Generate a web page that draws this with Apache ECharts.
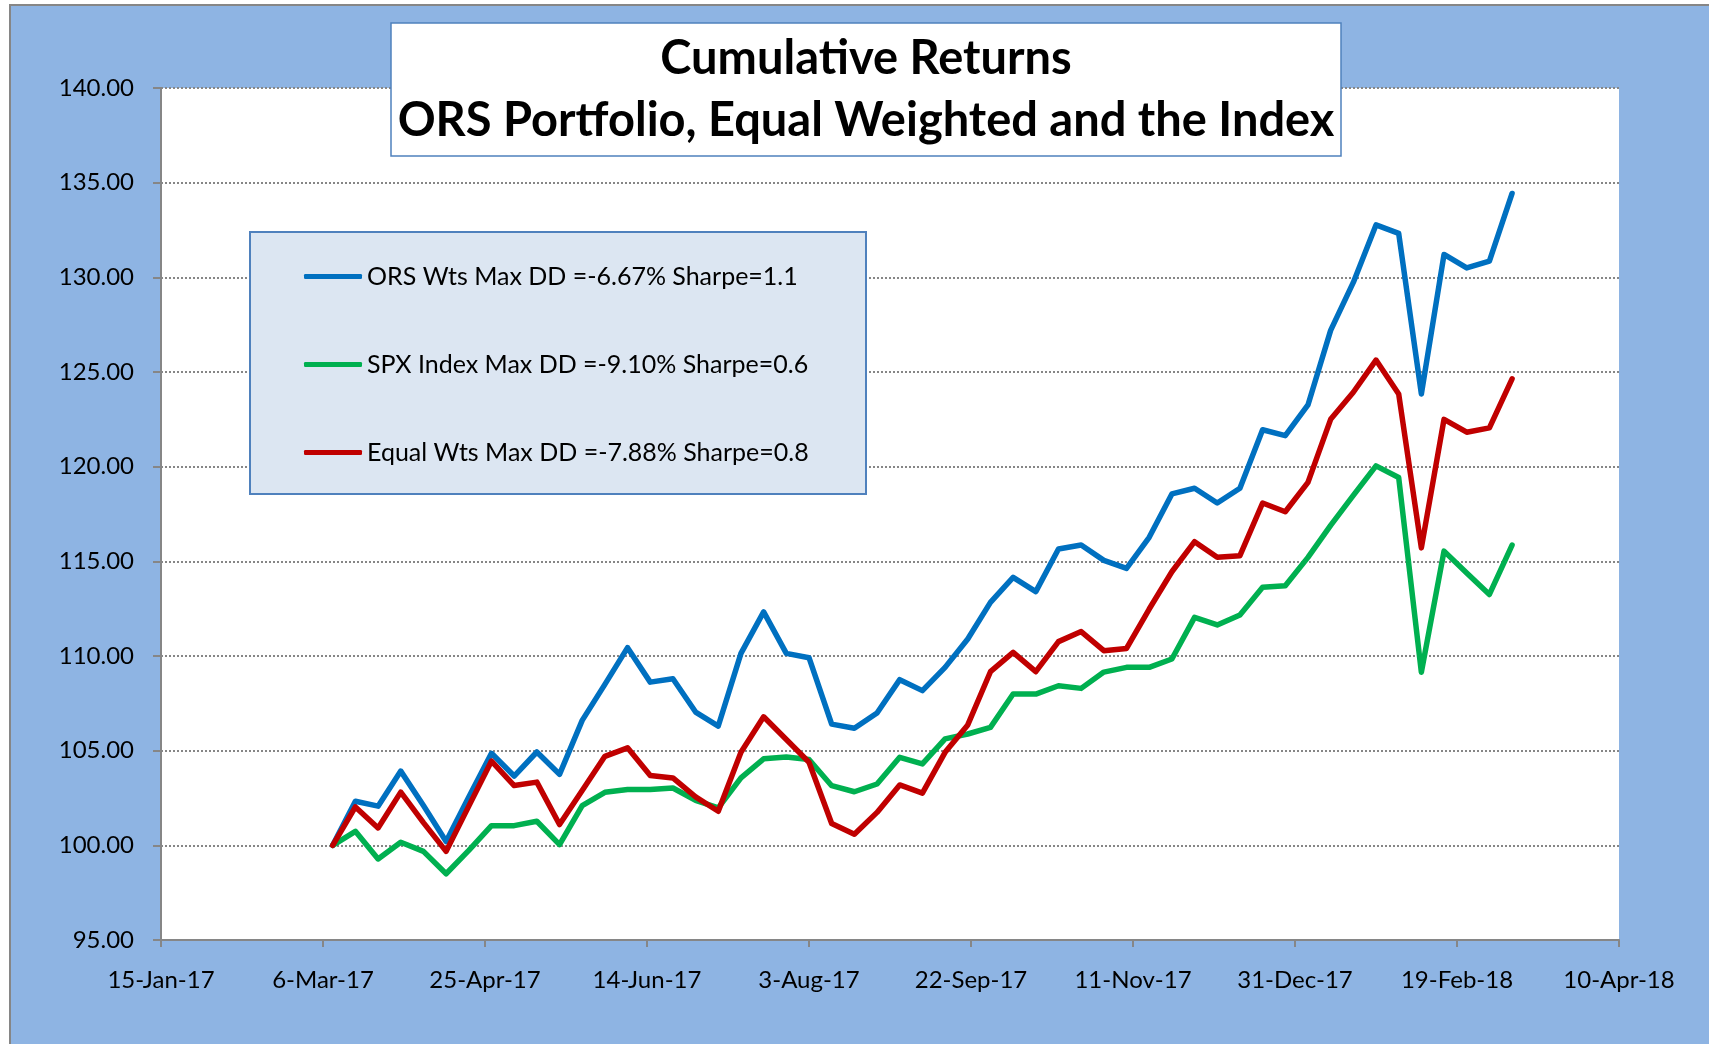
<!DOCTYPE html>
<html>
<head>
<meta charset="utf-8">
<title>Cumulative Returns</title>
<script src="https://cdn.jsdelivr.net/npm/echarts@6/dist/echarts.min.js"></script>
<style>
  html, body { margin: 0; padding: 0; background: #fff; }
  #chart { width: 1709px; height: 1044px; }
</style>
</head>
<body>
<div id="chart"></div>
<script>
// weekly closes
var weeks = [
  '2017-03-09', '2017-03-16', '2017-03-23', '2017-03-30',
  '2017-04-06', '2017-04-13', '2017-04-20', '2017-04-27',
  '2017-05-04', '2017-05-11', '2017-05-18', '2017-05-25',
  '2017-06-01', '2017-06-08', '2017-06-15', '2017-06-22', '2017-06-29',
  '2017-07-06', '2017-07-13', '2017-07-20', '2017-07-27',
  '2017-08-03', '2017-08-10', '2017-08-17', '2017-08-24', '2017-08-31',
  '2017-09-07', '2017-09-14', '2017-09-21', '2017-09-28',
  '2017-10-05', '2017-10-12', '2017-10-19', '2017-10-26',
  '2017-11-02', '2017-11-09', '2017-11-16', '2017-11-23', '2017-11-30',
  '2017-12-07', '2017-12-14', '2017-12-21', '2017-12-28',
  '2018-01-04', '2018-01-11', '2018-01-18', '2018-01-25',
  '2018-02-01', '2018-02-08', '2018-02-15', '2018-02-22',
  '2018-03-01', '2018-03-08'
];

var orsWts = [
  100.00, 102.33, 102.07, 103.92, 102.10, 100.20, 102.55, 104.86, 103.66, 104.93,
  103.75, 106.60, 108.50, 110.44, 108.62, 108.80, 107.04, 106.30, 110.14, 112.33,
  110.14, 109.91, 106.40, 106.18, 106.99, 108.75, 108.17, 109.40, 110.90, 112.83,
  114.15, 113.40, 115.65, 115.86, 115.05, 114.63, 116.27, 118.56, 118.86, 118.08,
  118.86, 121.95, 121.64, 123.26, 127.20, 129.73, 132.77, 132.32, 123.84, 131.21,
  130.50, 130.86, 134.43
];

var spxIndex = [
  100.00, 100.74, 99.28, 100.16, 99.68, 98.50, 99.73, 101.04, 101.04, 101.27,
  100.04, 102.10, 102.80, 102.95, 102.95, 103.03, 102.38, 101.98, 103.56, 104.57,
  104.67, 104.53, 103.15, 102.83, 103.24, 104.65, 104.30, 105.62, 105.88, 106.23,
  107.99, 107.99, 108.43, 108.29, 109.15, 109.40, 109.40, 109.84, 112.04, 111.64,
  112.17, 113.63, 113.71, 115.21, 116.90, 118.48, 120.04, 119.43, 109.14, 115.54,
  114.38, 113.25, 115.86
];

var equalWts = [
  100.00, 102.03, 100.92, 102.81, 101.20, 99.68, 102.07, 104.45, 103.16, 103.34,
  101.10, 102.90, 104.70, 105.15, 103.69, 103.56, 102.56, 101.80, 104.92, 106.79,
  105.59, 104.39, 101.15, 100.59, 101.74, 103.19, 102.76, 104.91, 106.36, 109.17,
  110.19, 109.17, 110.76, 111.29, 110.28, 110.40, 112.48, 114.45, 116.04, 115.21,
  115.30, 118.08, 117.62, 119.17, 122.50, 123.93, 125.63, 123.84, 115.71, 122.50,
  121.82, 122.05, 124.64
];

var seriesNames = [
  'ORS Wts Max DD =-6.67% Sharpe=1.1',
  'SPX Index Max DD =-9.10% Sharpe=0.6',
  'Equal Wts Max DD =-7.88% Sharpe=0.8'
];
var seriesColors = ['#0070C0', '#00B050', '#C00000'];

var titleLines = ['Cumulative Returns', 'ORS Portfolio, Equal Weighted and the Index'];
var monthNames = ['Jan', 'Feb', 'Mar', 'Apr', 'May', 'Jun', 'Jul', 'Aug', 'Sep', 'Oct', 'Nov', 'Dec'];

// x axis runs on spreadsheet day serials (15-Jan-17 = 42750), ticks every 50 days
var xMin = 42750, xMax = 43200, xStep = 50;
var yMin = 95, yMax = 140, yStep = 5;

function toSerial(s) {
  var p = s.split('-');
  return Date.UTC(+p[0], +p[1] - 1, +p[2]) / 86400000 + 25569;
}
function serialLabel(v) {
  var d = new Date((v - 25569) * 86400000);
  return d.getUTCDate() + '-' + monthNames[d.getUTCMonth()] + '-' + String(d.getUTCFullYear()).slice(2);
}
function pairs(vals) {
  return vals.map(function (v, i) { return [toSerial(weeks[i]), v]; });
}

var axisGray = '#868686';
var font = 'Lato, "Open Sans", sans-serif';

var chart = echarts.init(document.getElementById('chart'), null, { renderer: 'canvas' });

chart.setOption({
  animation: false,
  backgroundColor: '#fff',
  textStyle: { fontFamily: font },
  grid: {
    left: 161, right: 90, top: 88, bottom: 104,
    show: true, backgroundColor: '#fff', borderWidth: 0
  },
  graphic: [
    // outer chart area
    {
      type: 'rect', z: -100,
      shape: { x: 10, y: 5, width: 1720, height: 1060 },
      style: { fill: '#8EB4E3', stroke: axisGray, lineWidth: 2 }
    },
    // title box
    {
      type: 'rect', z: 10,
      shape: { x: 391, y: 23, width: 950, height: 133 },
      style: { fill: '#fff', stroke: '#4F81BD', lineWidth: 1.5 }
    },
    {
      type: 'text', z: 11, x: 866, y: 59,
      style: {
        text: titleLines[0], fill: '#000', align: 'center', verticalAlign: 'middle',
        font: 'bold 47px ' + font
      }
    },
    {
      type: 'text', z: 11, x: 866, y: 121,
      style: {
        text: titleLines[1], fill: '#000', align: 'center', verticalAlign: 'middle',
        font: 'bold 47px ' + font
      }
    },
    // legend box
    {
      type: 'rect', z: 10,
      shape: { x: 250, y: 232, width: 616, height: 262 },
      style: { fill: '#DCE6F2', stroke: '#4F81BD', lineWidth: 2 }
    }
  ],
  legend: {
    z: 11,
    orient: 'vertical',
    left: 304, top: 264,
    padding: 0,
    itemGap: 63,
    itemWidth: 58,
    itemHeight: 5,
    icon: 'roundRect',
    textStyle: { fontFamily: font, fontSize: 25, color: '#000' },
    data: seriesNames
  },
  xAxis: {
    type: 'value',
    min: xMin, max: xMax, interval: xStep,
    axisLine: { lineStyle: { color: axisGray, width: 2 } },
    axisTick: { show: true, length: 7, lineStyle: { color: axisGray, width: 2 } },
    axisLabel: { color: '#000', fontSize: 24, fontFamily: font, margin: 28, formatter: serialLabel },
    splitLine: { show: false }
  },
  yAxis: {
    type: 'value',
    min: yMin, max: yMax, interval: yStep,
    axisLine: { show: true, lineStyle: { color: axisGray, width: 2 } },
    axisTick: { show: true, length: 8, lineStyle: { color: axisGray, width: 2 } },
    axisLabel: {
      color: '#000', fontSize: 24, fontFamily: font, margin: 27,
      formatter: function (v) { return v.toFixed(2); }
    },
    splitLine: { show: true, lineStyle: { color: axisGray, width: 2, type: [2, 2] } }
  },
  series: [orsWts, spxIndex, equalWts].map(function (vals, k) {
    return {
      name: seriesNames[k],
      type: 'line',
      showSymbol: false,
      color: seriesColors[k],
      lineStyle: { width: 5.5, color: seriesColors[k], join: 'round', cap: 'round' },
      data: pairs(vals)
    };
  })
});
</script>
</body>
</html>
